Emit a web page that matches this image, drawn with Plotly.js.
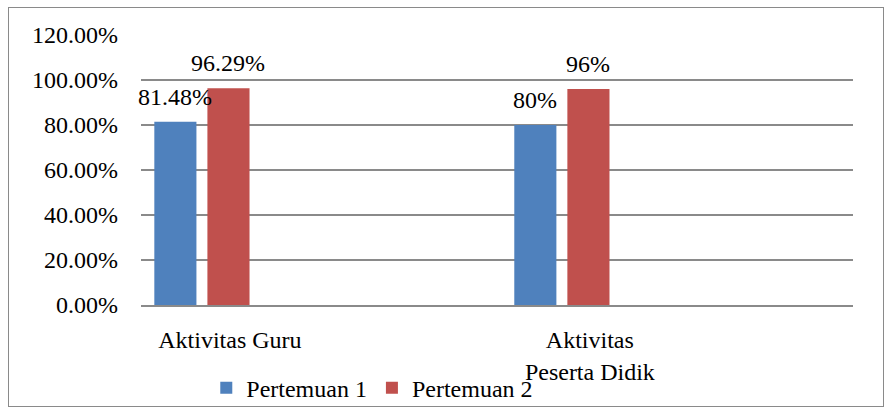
<!DOCTYPE html>
<html>
<head>
<meta charset="utf-8">
<script src="https://cdn.plot.ly/plotly-3.0.1.min.js"></script>
<style>
  html, body { margin: 0; padding: 0; background: #fff; }
  #wrap { position: relative; width: 893px; height: 410px; }
  #frame { position: absolute; left: 8px; top: 7px; width: 876px; height: 400px; border: 1px solid #8a8a8a; box-sizing: border-box; }
  #chart { position: absolute; left: 0; top: 0; width: 893px; height: 410px; }
</style>
</head>
<body>
<div id="wrap">
  <div id="frame"></div>
  <div id="chart"></div>
</div>
<script>
// Data
const categories = ["Aktivitas Guru", "Aktivitas<br>Peserta Didik"];
const seriesNames = ["Pertemuan 1", "Pertemuan 2"];
const pertemuan1 = [0.8148, 0.80];
const pertemuan2 = [0.9629, 0.96];
const labels1 = ["81.48%", "80%"];
const labels2 = ["96.29%", "96%"];
const yTickVals = [0, 0.2, 0.4, 0.6, 0.8, 1.0, 1.2];

// Styles
const FONT = "Liberation Serif";
const FS = 24;
const colors = ["#4F81BD", "#C0504D"];
const barWidth = 0.117;
const offsets = [-0.21, -0.0625];

const seriesValues = [pertemuan1, pertemuan2];
const seriesLabels = [labels1, labels2];

const traces = seriesValues.map((vals, i) => ({
  type: 'bar',
  name: seriesNames[i],
  x: categories,
  y: vals,
  width: barWidth,
  offset: offsets[i],
  marker: { color: colors[i] },
  hoverinfo: 'skip'
}));

const annotations = [];
seriesValues.forEach((vals, i) => {
  vals.forEach((v, j) => {
    annotations.push({
      x: j + offsets[i] + barWidth / 2,
      y: v,
      xref: 'x', yref: 'y',
      text: seriesLabels[i][j],
      showarrow: false,
      xanchor: 'center', yanchor: 'bottom',
      yshift: 10,
      font: { family: FONT, size: FS, color: '#000' }
    });
  });
});

const layout = {
  width: 893, height: 410,
  margin: { l: 141, r: 40, t: 35, b: 105 },
  paper_bgcolor: 'rgba(0,0,0,0)',
  plot_bgcolor: 'rgba(0,0,0,0)',
  font: { family: FONT, size: FS, color: '#000' },
  showlegend: true,
  legend: {
    orientation: 'h',
    xref: 'container', yref: 'container',
    x: 0.231, xanchor: 'left',
    y: 0.108, yanchor: 'top',
    font: { family: FONT, size: FS, color: '#000' },
    bgcolor: 'rgba(0,0,0,0)',
    itemwidth: 30
  },
  xaxis: {
    type: 'category',
    range: [-0.247, 1.731],
    showgrid: false,
    showline: true,
    linecolor: '#8a8a8a',
    linewidth: 1.5,
    ticks: '',
    ticklabelstandoff: 13,
    tickfont: { family: FONT, size: FS, color: '#000' },
    fixedrange: true
  },
  yaxis: {
    range: [0, 1.2],
    tickvals: yTickVals,
    tickformat: '.2%',
    showgrid: true,
    gridcolor: '#8a8a8a',
    gridwidth: 1.2,
    zeroline: false,
    showline: false,
    ticks: '',
    ticklabelstandoff: 22,
    tickfont: { family: FONT, size: FS, color: '#000' },
    fixedrange: true
  },
  annotations: annotations
};

Plotly.newPlot('chart', traces, layout, { displayModeBar: false, staticPlot: true });
</script>
</body>
</html>
